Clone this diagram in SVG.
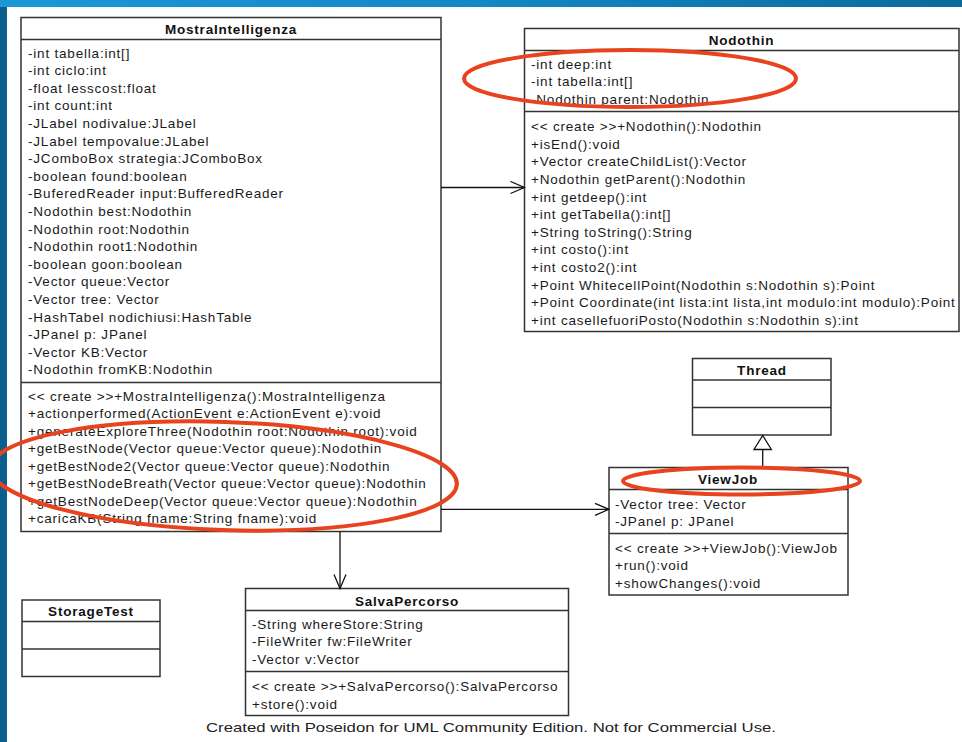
<svg xmlns="http://www.w3.org/2000/svg" width="962" height="742" viewBox="0 0 962 742">
<defs>
<linearGradient id="topbar" x1="0" y1="0" x2="1" y2="0">
<stop offset="0" stop-color="#1c98d6"/>
<stop offset="0.5" stop-color="#1288c4"/>
<stop offset="1" stop-color="#0a6a9c"/>
</linearGradient>
<marker id="open" viewBox="0 0 16 14" refX="15" refY="7" markerWidth="16" markerHeight="14" markerUnits="userSpaceOnUse" orient="auto">
<path d="M1,1 L15,7 L1,13" fill="none" stroke="#111" stroke-width="1.3"/>
</marker>
</defs>
<style>
.box{fill:#fff;stroke:#333;stroke-width:1.5}
.sep{stroke:#333;stroke-width:1.5}
.t{font-family:"Liberation Sans",Arial,sans-serif;font-size:13.5px;letter-spacing:0.8px;fill:#1a1a1a}
.h{font-family:"Liberation Sans",Arial,sans-serif;font-size:13.5px;font-weight:bold;letter-spacing:0.8px;fill:#111;text-anchor:middle}
.c{fill:none;stroke:#111;stroke-width:1.3}
.red{fill:none;stroke:#e8431e;stroke-width:4}
</style>
<rect x="0" y="0" width="962" height="742" fill="#fff"/>
<rect x="0" y="0" width="7" height="742" fill="#0b5f8e"/>
<rect x="0" y="0" width="962" height="7" fill="url(#topbar)"/>

<g id="MostraIntelligenza">
<rect class="box" x="21" y="17.5" width="420" height="514"/>
<line class="sep" x1="21" y1="39.5" x2="441" y2="39.5"/>
<line class="sep" x1="21" y1="382.5" x2="441" y2="382.5"/>
<text class="h" x="231" y="33.5">MostraIntelligenza</text>
<text class="t" x="28" y="57.5">-int tabella:int[]</text>
<text class="t" x="28" y="75.1">-int ciclo:int</text>
<text class="t" x="28" y="92.7">-float lesscost:float</text>
<text class="t" x="28" y="110.3">-int count:int</text>
<text class="t" x="28" y="127.9">-JLabel nodivalue:JLabel</text>
<text class="t" x="28" y="145.5">-JLabel tempovalue:JLabel</text>
<text class="t" x="28" y="163.1">-JComboBox strategia:JComboBox</text>
<text class="t" x="28" y="180.7">-boolean found:boolean</text>
<text class="t" x="28" y="198.3">-BuferedReader input:BufferedReader</text>
<text class="t" x="28" y="215.9">-Nodothin best:Nodothin</text>
<text class="t" x="28" y="233.5">-Nodothin root:Nodothin</text>
<text class="t" x="28" y="251.1">-Nodothin root1:Nodothin</text>
<text class="t" x="28" y="268.7">-boolean goon:boolean</text>
<text class="t" x="28" y="286.3">-Vector queue:Vector</text>
<text class="t" x="28" y="303.9">-Vector tree: Vector</text>
<text class="t" x="28" y="321.5">-HashTabel nodichiusi:HashTable</text>
<text class="t" x="28" y="339.1">-JPanel p: JPanel</text>
<text class="t" x="28" y="356.7">-Vector KB:Vector</text>
<text class="t" x="28" y="374.3">-Nodothin fromKB:Nodothin</text>
<text class="t" x="28" y="400.5">&lt;&lt; create &gt;&gt;+MostraIntelligenza():MostraIntelligenza</text>
<text class="t" x="28" y="418">+actionperformed(ActionEvent e:ActionEvent e):void</text>
<text class="t" x="28" y="435.5">+generateExploreThree(Nodothin root:Nodothin root):void</text>
<text class="t" x="28" y="453">+getBestNode(Vector queue:Vector queue):Nodothin</text>
<text class="t" x="28" y="470.5">+getBestNode2(Vector queue:Vector queue):Nodothin</text>
<text class="t" x="28" y="488">+getBestNodeBreath(Vector queue:Vector queue):Nodothin</text>
<text class="t" x="28" y="505.5">+getBestNodeDeep(Vector queue:Vector queue):Nodothin</text>
<text class="t" x="28" y="523">+caricaKB(String fname:String fname):void</text>
</g>

<g id="Nodothin">
<rect class="box" x="524.5" y="28.5" width="434.5" height="303"/>
<line class="sep" x1="524.5" y1="50.5" x2="959" y2="50.5"/>
<line class="sep" x1="524.5" y1="111.5" x2="959" y2="111.5"/>
<text class="h" x="741.5" y="44.5">Nodothin</text>
<text class="t" x="531" y="68.8">-int deep:int</text>
<text class="t" x="531" y="86.4">-int tabella:int[]</text>
<text class="t" x="531" y="104">-Nodothin parent:Nodothin</text>
<text class="t" x="531" y="131.2">&lt;&lt; create &gt;&gt;+Nodothin():Nodothin</text>
<text class="t" x="531" y="148.8">+isEnd():void</text>
<text class="t" x="531" y="166.4">+Vector createChildList():Vector</text>
<text class="t" x="531" y="184">+Nodothin getParent():Nodothin</text>
<text class="t" x="531" y="201.6">+int getdeep():int</text>
<text class="t" x="531" y="219.2">+int getTabella():int[]</text>
<text class="t" x="531" y="236.8">+String toString():String</text>
<text class="t" x="531" y="254.4">+int costo():int</text>
<text class="t" x="531" y="272">+int costo2():int</text>
<text class="t" x="531" y="289.6">+Point WhitecellPoint(Nodothin s:Nodothin s):Point</text>
<text class="t" x="531" y="307.2">+Point Coordinate(int lista:int lista,int modulo:int modulo):Point</text>
<text class="t" x="531" y="324.8">+int casellefuoriPosto(Nodothin s:Nodothin s):int</text>
</g>

<g id="Thread">
<rect class="box" x="692.5" y="358.5" width="138.5" height="76.5"/>
<line class="sep" x1="692.5" y1="380" x2="831" y2="380"/>
<line class="sep" x1="692.5" y1="407.5" x2="831" y2="407.5"/>
<text class="h" x="762" y="374.5">Thread</text>
</g>

<g id="ViewJob">
<rect class="box" x="609" y="467.5" width="239" height="127.5"/>
<line class="sep" x1="609" y1="489.5" x2="848" y2="489.5"/>
<line class="sep" x1="609" y1="533.5" x2="848" y2="533.5"/>
<text class="h" x="728" y="484">ViewJob</text>
<text class="t" x="615" y="508.5">-Vector tree: Vector</text>
<text class="t" x="615" y="526">-JPanel p: JPanel</text>
<text class="t" x="615" y="552.8">&lt;&lt; create &gt;&gt;+ViewJob():ViewJob</text>
<text class="t" x="615" y="570.3">+run():void</text>
<text class="t" x="615" y="587.8">+showChanges():void</text>
</g>

<g id="StorageTest">
<rect class="box" x="22" y="600" width="138" height="76.5"/>
<line class="sep" x1="22" y1="621.5" x2="160" y2="621.5"/>
<line class="sep" x1="22" y1="649" x2="160" y2="649"/>
<text class="h" x="91" y="615.5">StorageTest</text>
</g>

<g id="SalvaPercorso">
<rect class="box" x="245.5" y="588.5" width="323" height="127"/>
<line class="sep" x1="245.5" y1="610.5" x2="568.5" y2="610.5"/>
<line class="sep" x1="245.5" y1="671.5" x2="568.5" y2="671.5"/>
<text class="h" x="407" y="605.5">SalvaPercorso</text>
<text class="t" x="252" y="628.8">-String whereStore:String</text>
<text class="t" x="252" y="646.4">-FileWriter fw:FileWriter</text>
<text class="t" x="252" y="664">-Vector v:Vector</text>
<text class="t" x="252" y="691.2">&lt;&lt; create &gt;&gt;+SalvaPercorso():SalvaPercorso</text>
<text class="t" x="252" y="708.8">+store():void</text>
</g>

<g id="connectors">
<line class="c" x1="441" y1="187.5" x2="524.5" y2="187.5" marker-end="url(#open)"/>
<line class="c" x1="441" y1="509.3" x2="609" y2="509.3" marker-end="url(#open)"/>
<line class="c" x1="340" y1="531.5" x2="340" y2="588.5" marker-end="url(#open)"/>
<line class="c" x1="762.7" y1="467.5" x2="762.7" y2="449.5"/>
<path d="M754,449.5 L762.7,435.5 L771.4,449.5 Z" fill="#fff" stroke="#111" stroke-width="1.3"/>
</g>

<g id="annotations">
<ellipse class="red" cx="630" cy="78.5" rx="166" ry="28.5"/>
<ellipse class="red" cx="224" cy="476" rx="233" ry="54" transform="rotate(2 224 476)"/>
<ellipse class="red" cx="741.5" cy="481" rx="118.5" ry="13.5"/>
</g>

<text x="206" y="731.5" textLength="570" lengthAdjust="spacingAndGlyphs" style="font-family:'Liberation Sans',Arial,sans-serif;font-size:13.5px;fill:#222">Created with Poseidon for UML Community Edition. Not for Commercial Use.</text>
</svg>
